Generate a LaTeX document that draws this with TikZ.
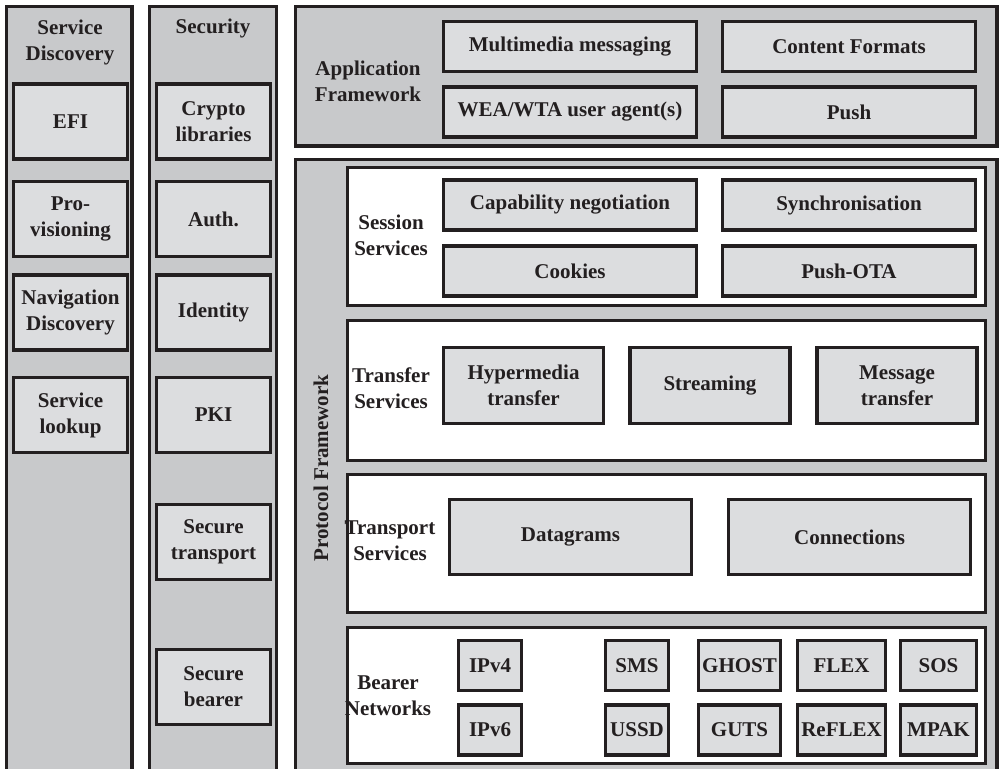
\documentclass[tikz,border=0pt]{standalone}
\usepackage{fontspec}
\setmainfont{Liberation Serif}
\usepackage{xcolor}
\usepackage{tikz}
\usetikzlibrary{positioning}

\definecolor{edgec}{RGB}{35,31,32}
\definecolor{colfill}{RGB}{200,201,203}
\definecolor{blkfill}{RGB}{220,221,223}

\tikzset{
  wapfont/.style={font=\fontsize{10.5}{13}\selectfont\bfseries, text=edgec},
  frame/.style={draw=edgec, line width=1.6pt, fill=colfill},
  layer/.style={draw=edgec, line width=1.6pt, fill=white},
  blk/.style={draw=edgec, line width=1.6pt, fill=blkfill, align=center, inner sep=0pt, wapfont},
  sidebox/.style={blk, minimum width=57pt, minimum height=37.5pt},
  widebox/.style={blk, minimum width=126.5pt, minimum height=25pt},
  xferbox/.style={blk, minimum width=80pt, minimum height=38pt},
  portbox/.style={blk, minimum width=121pt, minimum height=37.5pt},
  bearbox/.style={blk, minimum height=25pt},
  lbl/.style={align=center, inner sep=0pt, wapfont}
}

\begin{document}
\begin{tikzpicture}[x=0.5pt,y=-0.5pt]
\clip (0,0) rectangle (1000,769);
\fill[white] (0,0) rectangle (1000,769);

% side columns
\draw[frame] (6.5,6.5) rectangle (132,790);
\draw[frame] (149.5,6.5) rectangle (276.5,790);

\node[lbl] (sdtitle) at (70,42) {Service\\Discovery};
\node[sidebox] (efi) at (70.5,121.5) {EFI};
\node[sidebox] (prov) at (70.5,219) {Pro-\\visioning};
\node[sidebox] (navdisc) at (70.5,312.5) {Navigation\\Discovery};
\node[sidebox] (lookup) at (70.5,415) {Service\\lookup};

\node[lbl] (sectitle) at (213,28) {Security};
\node[sidebox] (crypto) at (213.5,121.5) {Crypto\\libraries};
\node[sidebox] (auth) at (213.5,219) {Auth.};
\node[sidebox] (ident) at (213.5,312.5) {Identity};
\node[sidebox] (pki) at (213.5,415) {PKI};
\node[sidebox] (sectrans) at (213.5,542) {Secure\\transport};
\node[sidebox] (secbear) at (213.5,687) {Secure\\bearer};

% application framework
\draw[frame] (295.5,6.5) rectangle (997,146);
\node[lbl] (apptitle) at (368,81) {Application\\Framework};
\node[widebox] (mms) at (570,46.5) {Multimedia messaging};
\node[widebox] (formats) at (849,46.5) {Content Formats};
\node[widebox] (agents) at (570,112) {WEA/WTA user agent(s)};
\node[widebox] (push) at (849,112) {Push};

% protocol framework
\draw[frame] (295.5,159.5) rectangle (997,790);
\node[lbl, rotate=90] (prottitle) at (321,468) {Protocol Framework};

\draw[layer] (347.5,167.5) rectangle (985.5,305.5);
\node[lbl] (sesstitle) at (391,235) {Session\\Services};
\node[widebox] (capneg) at (570,205) {Capability negotiation};
\node[widebox] (sync) at (849,205) {Synchronisation};
\node[widebox] (cookies) at (570,271) {Cookies};
\node[widebox] (pushota) at (849,271) {Push-OTA};

\draw[layer] (347.5,320.5) rectangle (985.5,460.5);
\node[lbl] (xfertitle) at (391,388) {Transfer\\Services};
\node[xferbox] (hyper) at (523.5,385.5) {Hypermedia\\transfer};
\node[xferbox] (stream) at (710,385.5) {Streaming};
\node[xferbox] (msgxfer) at (897,385.5) {Message\\transfer};

\draw[layer] (347.5,474.5) rectangle (985.5,612.5);
\node[lbl] (porttitle) at (390,541) {Transport\\Services};
\node[portbox] (dgram) at (570.5,537) {Datagrams};
\node[portbox] (conn) at (849.5,537) {Connections};

\draw[layer] (347.5,627.5) rectangle (985.5,763.5);
\node[lbl] (beartitle) at (388,696) {Bearer\\Networks};
\node[bearbox, minimum width=31.5pt] (ipv4) at (490,665.5) {IPv4};
\node[bearbox, minimum width=31.5pt] (ipv6) at (490,730) {IPv6};
\node[bearbox, minimum width=31.5pt] (sms) at (637,665.5) {SMS};
\node[bearbox, minimum width=31.5pt] (ussd) at (637,730) {USSD};
\node[bearbox, minimum width=41pt] (ghost) at (739.5,665.5) {GHOST};
\node[bearbox, minimum width=41pt] (guts) at (739.5,730) {GUTS};
\node[bearbox, minimum width=44pt] (flex) at (841.5,665.5) {FLEX};
\node[bearbox, minimum width=44pt] (reflex) at (841.5,730) {ReFLEX};
\node[bearbox, minimum width=38pt] (sos) at (938.5,665.5) {SOS};
\node[bearbox, minimum width=38pt] (mpak) at (938.5,730) {MPAK};
\end{tikzpicture}
\end{document}
